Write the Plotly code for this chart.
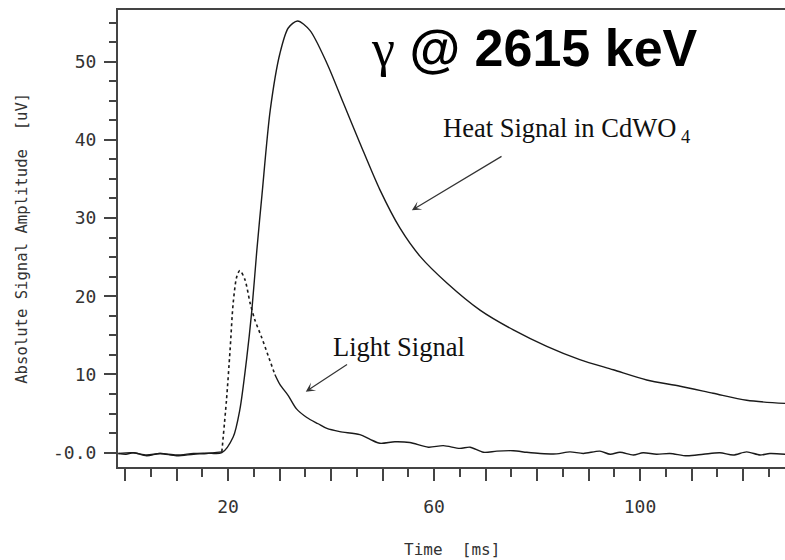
import plotly.graph_objects as go

# ---- data ----
heat_t = [-1.3, 1.6, 4.2, 6.8, 10.0, 13.3, 15.9, 18.8, 21.0, 22.3, 23.6, 24.6, 25.6, 26.6,
          28.2, 30.1, 31.7, 33.5, 35.9, 39.2, 42.4, 45.6, 49.5, 53.4, 57.3, 62.5, 69.0,
          75.4, 81.9, 88.3, 94.8, 101.3, 107.8, 114.2, 120.7, 128.2]
heat_v = [-0.1, 0.0, -0.3, -0.1, -0.3, -0.1, -0.05, 0.0, 2.0, 5.5, 11.9, 18.0, 25.9, 33.0,
          43.8, 51.1, 54.3, 55.2, 54.0, 49.8, 44.7, 39.6, 33.6, 28.7, 25.1, 21.7, 18.2,
          15.7, 13.6, 11.9, 10.6, 9.3, 8.5, 7.6, 6.7, 6.3]

light_t = [-1.3, 0.2, 1.6, 4.2, 6.8, 10.0, 13.3, 15.9, 18.8, 19.7, 20.4, 21.0, 21.7, 22.3,
           23.3, 24.3, 25.2, 26.5, 27.8, 29.1, 30.1, 31.7, 33.3, 35.3, 37.5, 39.2, 41.7,
           45.6, 47.6, 49.5, 52.4, 55.3, 58.9, 61.8, 65.0, 67.0, 69.6, 72.2, 75.4, 78.0,
           80.6, 83.8, 86.4, 89.0, 92.2, 94.2, 96.1, 98.7, 100.6, 103.2, 105.8, 109.1,
           112.3, 115.5, 118.1, 120.7, 123.3, 125.2, 128.2]
light_v = [-0.1, -0.2, 0.0, -0.4, -0.1, -0.4, -0.2, -0.1, 0.1, 6.7, 13.1, 19.1, 22.5, 23.3,
           22.1, 19.1, 17.0, 14.8, 12.4, 10.0, 8.7, 7.3, 5.6, 4.5, 3.7, 3.1, 2.7,
           2.3, 1.7, 1.2, 1.4, 1.3, 0.7, 0.9, 0.55, 0.7, 0.05, 0.2, 0.25, 0.05,
           -0.1, -0.15, 0.1, -0.1, 0.2, -0.2, 0.05, -0.3, 0.0, -0.2, -0.1, -0.4,
           -0.2, 0.0, -0.3, 0.1, -0.3, -0.1, -0.2]
light_dotted_from = 18.8   # ms, dotted part of the light pulse
light_dotted_to = 29.1

x_major = list(range(0, 130, 10))
x_labels = {20: "20", 60: "60", 100: "100"}
y_major = [0, 10, 20, 30, 40, 50]
y_labels = ["-0.0", "10", "20", "30", "40", "50"]

LINE = "#1a1a1a"
AX = "#444444"

fig = go.Figure()

def seg(ts, vs, lo, hi):
    xs, ys = [], []
    for t, v in zip(ts, vs):
        if lo <= t <= hi:
            xs.append(t); ys.append(v)
    return xs, ys

# light signal: solid baseline, dotted rise/peak, solid tail
for lo, hi, dash in [(-10, light_dotted_from, "solid"),
                     (light_dotted_from, light_dotted_to, "dot"),
                     (light_dotted_to, 200, "solid")]:
    xs, ys = seg(light_t, light_v, lo, hi)
    fig.add_trace(go.Scatter(x=xs, y=ys, mode="lines",
                             line=dict(color=LINE, width=1.4 if dash == "solid" else 1.6,
                                       dash=dash, shape="spline", smoothing=0.8),
                             showlegend=False, hoverinfo="skip"))

fig.add_trace(go.Scatter(x=heat_t, y=heat_v, mode="lines",
                         line=dict(color=LINE, width=1.4, shape="spline", smoothing=0.8),
                         showlegend=False, hoverinfo="skip"))

fig.update_layout(
    width=785, height=560,
    margin=dict(l=118, r=0, t=10, b=93),
    plot_bgcolor="white", paper_bgcolor="white",
    xaxis=dict(range=[-1.36, 128.15], showgrid=False, zeroline=False,
               showline=True, linecolor=AX, linewidth=2, mirror=True,
               ticks="outside", ticklen=12, tickwidth=2, tickcolor=AX,
               tickvals=x_major, ticktext=[x_labels.get(v, "") for v in x_major],
               tickfont=dict(family="DejaVu Sans Mono", size=18, color="#333"),
               ticklabelstandoff=10,
               minor=dict(dtick=5, tick0=0, ticks="outside", ticklen=8,
                          tickwidth=2, tickcolor=AX, showgrid=False)),
    yaxis=dict(range=[-1.83, 56.6], showgrid=False, zeroline=False,
               showline=True, linecolor=AX, linewidth=2, mirror=False,
               ticks="outside", ticklen=12, tickwidth=2, tickcolor=AX,
               tickvals=y_major, ticktext=y_labels,
               tickfont=dict(family="DejaVu Sans Mono", size=18, color="#333"),
               ticklabelstandoff=4,
               minor=dict(dtick=2.5, tick0=0, ticks="outside", ticklen=7,
                          tickwidth=2, tickcolor=AX, showgrid=False)),
)

fig.add_annotation(text="Time  [ms]", xref="paper", yref="paper", x=0.5, y=-0.18,
                   yanchor="middle", showarrow=False,
                   font=dict(family="DejaVu Sans Mono", size=16, color="#333"))
fig.add_annotation(text="Absolute Signal Amplitude  [uV]", xref="paper", yref="paper",
                   x=-0.145, y=0.5, textangle=-90, xanchor="center", showarrow=False,
                   font=dict(family="DejaVu Sans Mono", size=15.6, color="#333"))

fig.add_annotation(text='<span style="font-family:Liberation Serif;font-weight:normal">γ</span> @ 2615 keV',
                   x=79.6, y=51.7, xref="x", yref="y", showarrow=False,
                   font=dict(family="Liberation Sans", size=52, color="black", weight="bold"))

fig.add_annotation(text="Heat Signal in CdWO<sub> 4</sub>", x=61.4, y=41.3, xref="x", yref="y",
                   xanchor="left", showarrow=False,
                   font=dict(family="Liberation Serif", size=26.5, color="#111"))
fig.add_annotation(x=55.7, y=31.0, ax=73.4, ay=38.0, axref="x", ayref="y",
                   xref="x", yref="y", text="", showarrow=True,
                   arrowhead=3, arrowsize=1.3, arrowwidth=1.2, arrowcolor="#333")

fig.add_annotation(text="Light Signal", x=40.0, y=13.5, xref="x", yref="y",
                   xanchor="left", showarrow=False,
                   font=dict(family="Liberation Serif", size=26.5, color="#111"))
fig.add_annotation(x=35.1, y=7.8, ax=43.4, ay=11.4, axref="x", ayref="y",
                   xref="x", yref="y", text="", showarrow=True,
                   arrowhead=3, arrowsize=1.3, arrowwidth=1.2, arrowcolor="#333")

fig.write_html("out.html")
